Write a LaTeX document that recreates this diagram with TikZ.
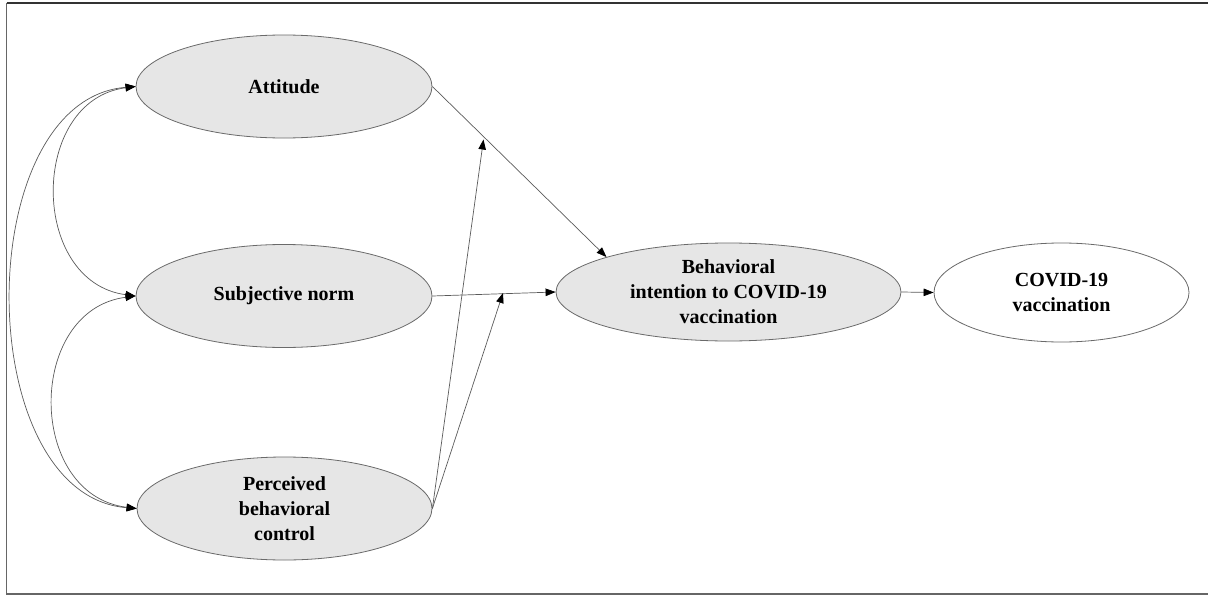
\documentclass[tikz,border=0pt]{standalone}
\usepackage{fontspec}
\setmainfont{Liberation Serif}
\usetikzlibrary{shapes.geometric,arrows.meta}
\definecolor{efill}{HTML}{E6E6E6}
\definecolor{edraw}{HTML}{6A6A6A}
\definecolor{lcol}{HTML}{5A5A5A}
\begin{document}
\begin{tikzpicture}[x=1pt,y=-1pt,
  lat/.style={ellipse,draw=edraw,fill=efill,line width=0.8pt,inner sep=0pt,align=center,
    font=\bfseries\fontsize{20}{25}\selectfont},
  obs/.style={lat,fill=white},
  tip/.tip={Triangle[length=10pt,width=7.5pt,color=black]},
  conn/.style={draw=lcol,line width=0.7pt,-tip},
  cov/.style={draw=lcol,line width=0.7pt,tip-tip}]
\useasboundingbox (0,0) rectangle (1208,597);
\draw[line width=1.3pt,color=black!80] (6.5,3) -- (1208,3);
\draw[line width=1.3pt,color=black!60] (6.5,3) -- (6.5,594) -- (1208,594);

\node[lat,minimum width=296pt,minimum height=103pt] (att) at (284,86.5) {Attitude};
\node[lat,minimum width=296pt,minimum height=103pt] (sn) at (284,296) {Subjective norm};
\node[lat,minimum width=295pt,minimum height=103pt] (pbc) at (284.5,508.5) {Perceived\\behavioral\\control};
\node[lat,minimum width=345pt,minimum height=98pt] (bi) at (728.5,292) {Behavioral\\intention to COVID-19\\vaccination};
\node[obs,minimum width=255pt,minimum height=99pt] (cv) at (1061.5,292.5) {COVID-19\\vaccination};

\coordinate (m1) at (483.5,139.5);
\coordinate (m2) at (503,293);

\draw[conn] (att.east) -- (bi.164);
\draw[conn] (sn.east) -- (bi.west);
\draw[conn] (pbc.east) -- (m1);
\draw[conn] (pbc.east) -- (m2);
\draw[conn] (bi.east) -- (cv.west);

\draw[cov] (att.west) .. controls (29,100) and (29,282) .. (sn.west);
\draw[cov] (att.west) .. controls (-30,100) and (-30,495) .. (pbc.west);
\draw[cov] (sn.west) .. controls (26,310) and (26,495) .. (pbc.west);
\end{tikzpicture}
\end{document}
